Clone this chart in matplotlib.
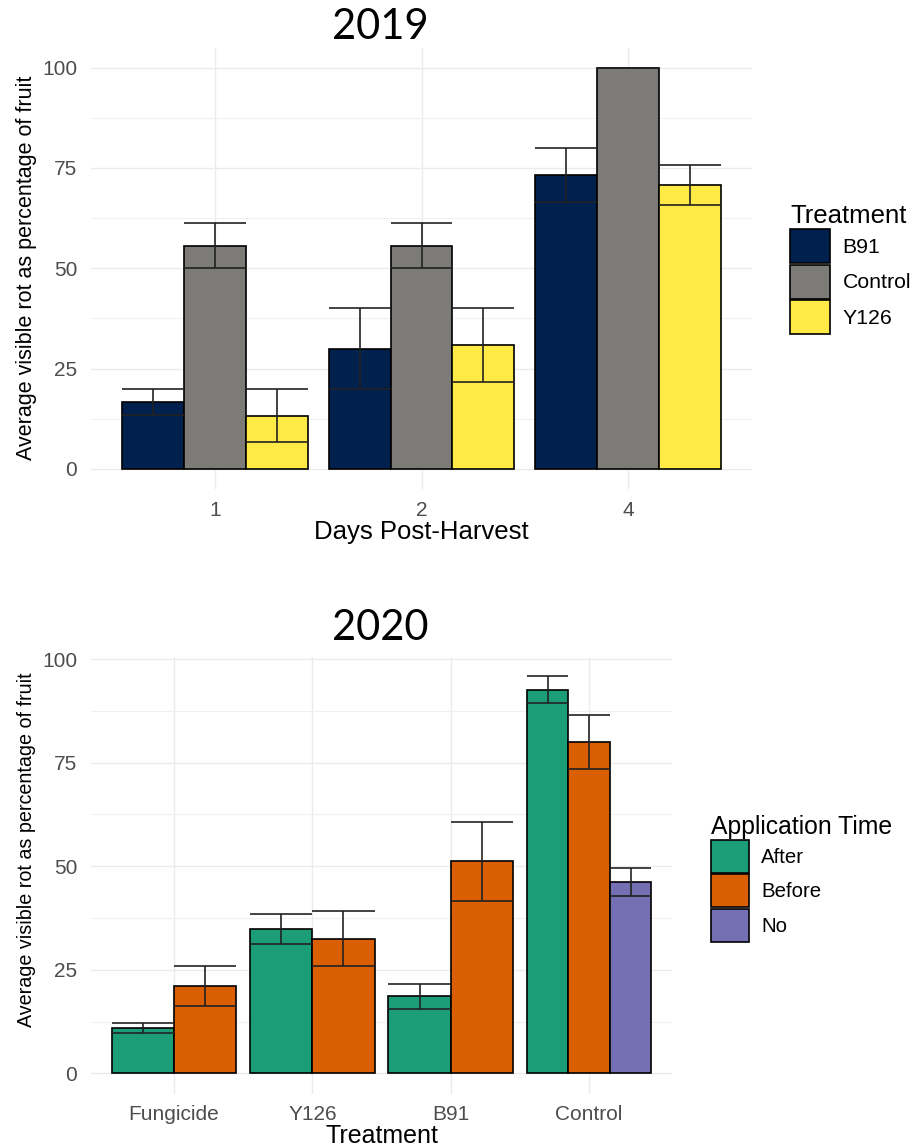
import matplotlib.pyplot as plt
from matplotlib.patches import Patch

# 2019: rot by days post-harvest
days = ["1", "2", "4"]
treat_2019 = ["B91", "Control", "Y126"]
b91_2019 = [16.7, 30.0, 73.3]
b91_se_2019 = [3.3, 10.0, 6.7]
control_2019 = [55.6, 55.6, 100.0]
control_se_2019 = [5.6, 5.6, 0.0]
y126_2019 = [13.3, 30.8, 70.8]
y126_se_2019 = [6.7, 9.2, 5.0]

# 2020: rot by treatment and application time
treat_2020 = ["Fungicide", "Y126", "B91", "Control"]
app_time = ["After", "Before", "No"]
after_2020 = [11.0, 34.9, 18.6, 92.6]
after_se_2020 = [1.2, 3.6, 3.0, 3.2]
before_2020 = [21.1, 32.5, 51.2, 80.0]
before_se_2020 = [4.8, 6.7, 9.5, 6.6]
no_2020 = [None, None, None, 46.2]
no_se_2020 = [None, None, None, 3.4]

colors_2019 = ["#00204D", "#7C7B78", "#FFEA46"]
colors_2020 = ["#1B9E77", "#D95F02", "#7570B3"]

W, H = 915, 1148
fig = plt.figure(figsize=(W / 100, H / 100), dpi=100)
plt.rcParams["font.family"] = ["Liberation Sans", "DejaVu Sans"]


def px_axes(left, top, right, bottom):
    return fig.add_axes([left / W, 1 - bottom / H, (right - left) / W, (bottom - top) / H])


def style_axes(ax, ncat, ymin, ymax, xpad):
    ax.set_xlim(0.4, ncat + 0.6)
    ax.set_ylim(ymin, ymax)
    for s in ax.spines.values():
        s.set_visible(False)
    ax.set_yticks([0, 25, 50, 75, 100])
    ax.set_yticks([12.5, 37.5, 62.5, 87.5], minor=True)
    ax.set_xticks(range(1, ncat + 1))
    ax.grid(True, which="major", color="#EBEBEB", lw=1.0)
    ax.grid(True, which="minor", axis="y", color="#F0F0F0", lw=0.8)
    ax.set_axisbelow(True)
    ax.tick_params(which="both", length=0, labelsize=15, labelcolor="#4D4D4D")
    ax.tick_params(axis="y", pad=10)
    ax.tick_params(axis="x", pad=xpad)


def dodge_bars(ax, series, errs, colors):
    ncat = len(series[0])
    for c in range(ncat):
        present = [g for g in range(len(series)) if series[g][c] is not None]
        w = 0.9 / len(present)
        for k, g in enumerate(present):
            x = c + 1 - 0.45 + w * (k + 0.5)
            v, e = series[g][c], errs[g][c]
            ax.bar(x, v, width=w, color=colors[g], edgecolor="black", lw=1.2, zorder=2)
            ax.vlines(x, v - e, v + e, color="#222222", lw=1.2, zorder=3)
            ax.hlines([v - e, v + e], x - w / 2, x + w / 2, color="#222222", lw=1.2, zorder=3)


def add_legend(ax, title, labels, colors, x, y, fs, tfs, hl, hh):
    handles = [Patch(facecolor=c, edgecolor="black", lw=1.2) for c in colors]
    leg = ax.legend(handles, labels, title=title, loc="upper left",
                    bbox_to_anchor=(x / W, 1 - y / H), bbox_transform=fig.transFigure,
                    frameon=False, fontsize=fs, title_fontsize=tfs, alignment="left",
                    handlelength=hl, handleheight=hh, labelspacing=0.06,
                    handletextpad=0.6, borderpad=0, borderaxespad=0)
    return leg


# top panel
ax1 = px_axes(91, 47.5, 752, 489)
style_axes(ax1, 3, -5, 105, 9)
dodge_bars(ax1, [b91_2019, control_2019, y126_2019],
           [b91_se_2019, control_se_2019, y126_se_2019], colors_2019)
ax1.set_xticklabels(days)
ax1.set_xlabel("Days Post-Harvest", fontsize=18.5, labelpad=0)
ax1.set_ylabel("Average visible rot as percentage of fruit", fontsize=15.5)
ax1.yaxis.set_label_coords(-0.0817, 0.5)
add_legend(ax1, "Treatment", treat_2019, colors_2019, 790, 204, 15.3, 18.5, 1.88, 2.085)
fig.text(380 / W, 1 - 27 / H, "2019", fontsize=30, family="Lato", ha="center", va="center")

# bottom panel
ax2 = px_axes(91, 657, 672, 1094)
style_axes(ax2, 4, -5, 100.5, 8)
dodge_bars(ax2, [after_2020, before_2020, no_2020],
           [after_se_2020, before_se_2020, no_se_2020], colors_2020)
ax2.set_xticklabels(treat_2020)
ax2.set_xlabel("Treatment", fontsize=18, labelpad=0)
ax2.set_ylabel("Average visible rot as percentage of fruit", fontsize=14.2)
ax2.yaxis.set_label_coords(-0.094, 0.558)
add_legend(ax2, "Application Time", app_time, colors_2020, 711, 815, 14.7, 17.8, 1.85, 2.11)
fig.text(380 / W, 1 - 628 / H, "2020", fontsize=30, family="Lato", ha="center", va="center")

fig.savefig("out.png", dpi=100)
